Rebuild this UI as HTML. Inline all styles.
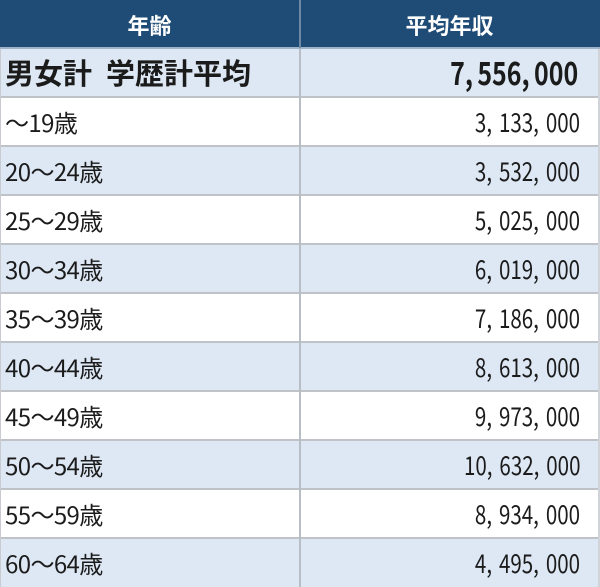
<!DOCTYPE html>
<html><head><meta charset="utf-8"><style>
html,body{margin:0;padding:0;background:#fff;}
body{width:600px;height:587px;position:relative;overflow:hidden;font-family:"Liberation Sans","Noto Sans CJK JP",sans-serif;color:#1b1b1b;}
.r{position:absolute;left:0;width:600px;height:49px;box-sizing:border-box;border-bottom:2px solid #bfc3c8;}
.l{background:#dde8f4;}
.w{background:#fff;}
.h{background:#1f4b77;border-bottom:2px solid #9fb3c8;}
.c1,.c2{position:absolute;top:0;height:47px;line-height:47px;font-family:"Noto Sans CJK JP",sans-serif;white-space:nowrap;}
.c1{left:0;width:299px;}
.c2{left:301px;width:297px;}
.vl{position:absolute;left:299px;top:0;width:2px;height:587px;background:#b8bec5;}
.vlh{position:absolute;left:299px;top:0;width:2px;height:48px;background:#6f88a4;}
.rb{position:absolute;left:598px;top:0;width:2px;height:587px;background:#d0d4d8;}
.lb{position:absolute;left:0;top:0;width:1px;height:587px;background:#c8ccd0;}
.hd{color:#fff;font-size:22px;font-weight:bold;text-align:center;padding-top:2px;box-sizing:border-box;}
.lab{font-size:24px;padding-left:5px;box-sizing:border-box;letter-spacing:-0.6px;}
.num{position:absolute;right:18px;top:0;font-size:26px;transform:scaleX(0.79);transform-origin:right center;}
.num i{font-style:normal;display:inline-block;width:16px;text-align:left;}
.big{font-size:29px;font-weight:bold;padding-left:5px;box-sizing:border-box;}
.bnum{position:absolute;right:20px;top:0;font-size:32px;font-weight:bold;transform:scaleX(0.78);transform-origin:right center;}
.bnum i{font-style:normal;display:inline-block;width:16px;text-align:left;}
</style></head><body>
<div class="r h" style="top:0"><div class="c1 hd">年齢</div><div class="c2 hd">平均年収</div></div>
<div class="r l" style="top:49px"><div class="c1 big">男女計<span style="display:inline-block;width:14px"></span>学歴計平均</div><div class="c2"><span class="bnum">7<i>,</i>556<i>,</i>000</span></div></div>
<div class="r w" style="top:98px"><div class="c1 lab">～19歳</div><div class="c2"><span class="num">3<i>,</i>133<i>,</i>000</span></div></div>
<div class="r l" style="top:147px"><div class="c1 lab">20～24歳</div><div class="c2"><span class="num">3<i>,</i>532<i>,</i>000</span></div></div>
<div class="r w" style="top:196px"><div class="c1 lab">25～29歳</div><div class="c2"><span class="num">5<i>,</i>025<i>,</i>000</span></div></div>
<div class="r l" style="top:245px"><div class="c1 lab">30～34歳</div><div class="c2"><span class="num">6<i>,</i>019<i>,</i>000</span></div></div>
<div class="r w" style="top:294px"><div class="c1 lab">35～39歳</div><div class="c2"><span class="num">7<i>,</i>186<i>,</i>000</span></div></div>
<div class="r l" style="top:343px"><div class="c1 lab">40～44歳</div><div class="c2"><span class="num">8<i>,</i>613<i>,</i>000</span></div></div>
<div class="r w" style="top:392px"><div class="c1 lab">45～49歳</div><div class="c2"><span class="num">9<i>,</i>973<i>,</i>000</span></div></div>
<div class="r l" style="top:441px"><div class="c1 lab">50～54歳</div><div class="c2"><span class="num">10<i>,</i>632<i>,</i>000</span></div></div>
<div class="r w" style="top:490px"><div class="c1 lab">55～59歳</div><div class="c2"><span class="num">8<i>,</i>934<i>,</i>000</span></div></div>
<div class="r l" style="top:539px;height:48px;border-bottom:none"><div class="c1 lab">60～64歳</div><div class="c2"><span class="num">4<i>,</i>495<i>,</i>000</span></div></div>
<div class="vl" style="top:49px;height:538px"></div>
<div class="vlh"></div>
<div class="rb" style="top:49px;height:538px"></div>
<div class="lb" style="top:49px;height:538px"></div>
</body></html>
